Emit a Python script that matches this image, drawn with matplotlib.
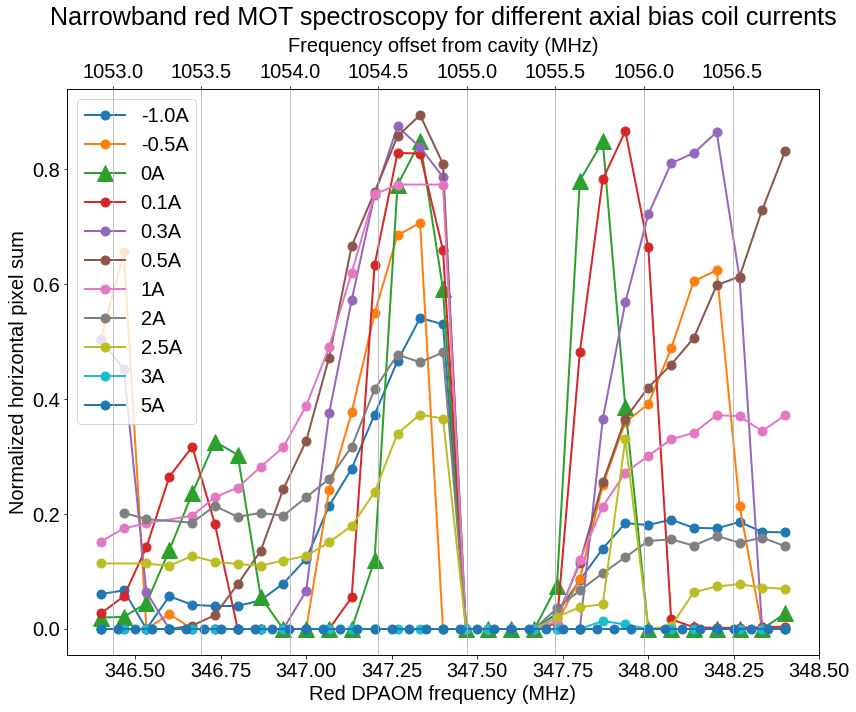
# Narrowband red MOT spectroscopy vs axial bias coil current

import matplotlib
matplotlib.use('Agg')
import matplotlib.pyplot as plt

plt.rcParams['font.family'] = ['Liberation Sans', 'DejaVu Sans']
plt.rcParams['font.size'] = 20

# ---- data ----
# red DPAOM frequency (MHz), regular scan
freq = [346.400, 346.467, 346.533, 346.600, 346.667, 346.733, 346.800, 346.867,
        346.933, 347.000, 347.067, 347.133, 347.200, 347.267, 347.333, 347.400,
        347.467, 347.533, 347.600, 347.667, 347.733, 347.800, 347.867, 347.933,
        348.000, 348.067, 348.133, 348.200, 348.267, 348.333, 348.400]
# finer scan used for the 5A run
freq_fine = [346.40, 346.45, 346.50, 346.55, 346.60, 346.65, 346.70, 346.75,
             346.80, 346.85, 346.90, 346.95, 347.00, 347.05, 347.10, 347.15,
             347.20, 347.25, 347.30, 347.35, 347.40, 347.45, 347.50, 347.55,
             347.60, 347.65, 347.70, 347.75, 347.80, 347.85, 347.90, 347.95,
             348.00, 348.05, 348.10, 348.15, 348.20, 348.25, 348.30, 348.35,
             348.40]

# normalized horizontal pixel sum, None = dropped shot
sig_m1p0 = [0.061, 0.067, 0.0, 0.057, 0.042, 0.040, 0.040, 0.050, 0.079, 0.122,
            0.214, 0.279, 0.373, 0.466, 0.541, 0.530, 0.0, 0.0, 0.0, 0.0,
            0.027, 0.085, 0.140, 0.184, 0.181, 0.190, 0.176, 0.175, 0.186, 0.169,
            0.168]
sig_m0p5 = [0.505, 0.655, 0.0, 0.026, 0.0, 0.0, 0.0, 0.0, 0.0, 0.0,
            0.241, 0.377, 0.549, 0.685, 0.706, 0.0, 0.0, 0.0, 0.0, 0.0,
            0.010, 0.087, 0.250, 0.360, 0.391, 0.488, 0.605, 0.624, 0.214, 0.0,
            0.0]
sig_0 = [0.020, 0.021, 0.045, 0.137, 0.236, 0.326, 0.303, 0.056, 0.0, 0.0,
         0.0, 0.0, 0.120, 0.772, 0.848, 0.591, 0.0, 0.0, 0.0, 0.0,
         0.075, 0.780, 0.848, 0.386, 0.0, 0.0, 0.0, 0.0, 0.0, 0.0,
         0.027]
sig_0p1 = [0.027, 0.057, 0.142, 0.265, 0.317, 0.183, 0.0, 0.0, 0.0, 0.0,
           0.0, 0.055, 0.633, 0.828, 0.827, 0.659, 0.0, 0.0, 0.0, 0.0,
           0.010, 0.481, 0.782, 0.866, 0.664, 0.017, 0.003, 0.002, 0.002, 0.003,
           0.004]
sig_0p3 = [0.503, 0.452, 0.064, 0.0, 0.0, 0.0, 0.0, 0.0, 0.0, 0.066,
           0.375, 0.572, 0.755, 0.874, 0.838, 0.786, 0.0, 0.0, 0.0, 0.0,
           0.0, 0.0, 0.365, 0.568, 0.721, 0.810, 0.828, 0.864, 0.610, 0.0,
           0.0]
sig_0p5 = [0.0, 0.0, 0.0, 0.0, 0.006, 0.024, 0.078, 0.136, 0.243, 0.327,
           0.472, 0.666, 0.760, 0.857, 0.894, 0.809, 0.0, 0.0, 0.0, 0.0,
           0.020, 0.115, 0.255, 0.366, 0.420, 0.460, 0.506, 0.598, 0.613, 0.729,
           0.831]
sig_1 = [0.152, 0.175, 0.184, None, 0.197, 0.229, 0.246, 0.282, 0.316, 0.388,
         0.490, 0.620, 0.756, 0.773, None, 0.773, 0.0, 0.0, 0.0, 0.0,
         0.013, 0.120, 0.213, 0.272, 0.301, 0.330, 0.341, 0.372, 0.370, 0.344,
         0.372]
sig_2 = [None, 0.202, 0.191, None, 0.185, 0.214, 0.195, 0.202, 0.197, 0.229,
         0.261, 0.317, 0.417, 0.477, 0.464, 0.481, 0.0, 0.0, 0.0, 0.0,
         0.036, 0.067, 0.097, 0.125, 0.153, 0.156, 0.145, 0.162, 0.150, 0.159,
         0.144]
sig_2p5 = [0.114, None, 0.114, 0.110, 0.127, 0.117, 0.113, 0.110, 0.119, 0.127,
           0.151, 0.179, 0.238, 0.340, 0.373, 0.366, 0.0, 0.0, 0.0, 0.0,
           0.021, 0.038, 0.043, 0.330, 0.0, 0.005, 0.064, 0.074, 0.078, 0.072,
           0.070]
sig_3 = [0.0, 0.0, 0.0, 0.0, 0.0, 0.0, 0.0, 0.0, 0.0, 0.0,
         0.0, 0.0, 0.0, 0.0, 0.0, 0.0, 0.0, 0.0, 0.0, 0.0,
         0.0, 0.0, 0.014, 0.008, 0.0, 0.0, 0.0, 0.0, 0.0, 0.0,
         0.0]
sig_5 = [0.0, 0.0, 0.0, 0.0, 0.0, 0.0, 0.0, 0.0, 0.0, 0.0,
         0.0, 0.0, 0.0, 0.0, 0.0, 0.0, 0.0, 0.0, 0.0, 0.0,
         0.0, 0.0, 0.0, 0.0, 0.0, 0.0, 0.0, 0.0, 0.0, 0.0,
         0.0, 0.0, 0.0, 0.0, 0.0, 0.0, 0.0, 0.0, 0.0, 0.0,
         0.0]

labels = ['-1.0A', '-0.5A', '0A', '0.1A', '0.3A', '0.5A',
          '1A', '2A', '2.5A', '3A', '5A']
runs = [(freq, sig_m1p0), (freq, sig_m0p5), (freq, sig_0), (freq, sig_0p1),
        (freq, sig_0p3), (freq, sig_0p5), (freq, sig_1), (freq, sig_2),
        (freq, sig_2p5), (freq, sig_3), (freq_fine, sig_5)]

# top axis: frequency offset from cavity (MHz), matched to the bottom range
top_lim = (1052.74, 1056.99)

title = 'Narrowband red MOT spectroscopy for different axial bias coil currents'


def drop_missing(xs, ys):
    pairs = [(x, y) for x, y in zip(xs, ys) if y is not None]
    return [p[0] for p in pairs], [p[1] for p in pairs]


# ---- plot ----
fig = plt.figure(figsize=(856 / 72, 712 / 72), dpi=72)
ax = fig.add_axes([66.7 / 856, 1 - 654.7 / 712,
                   (819.3 - 66.7) / 856, (654.7 - 89.3) / 712])

for (xs, ys), lab in zip(runs, labels):
    xs, ys = drop_missing(xs, ys)
    if lab == '0A':
        ax.plot(xs, ys, '-^', lw=2, ms=16, label=lab)
    else:
        ax.plot(xs, ys, '-o', lw=2, ms=9, label=lab)

ax.set_xlabel('Red DPAOM frequency (MHz)')
ax.set_ylabel('Normalized horizontal pixel sum')
ax.legend(loc='upper left')

ax2 = ax.twiny()
ax2.set_xlim(*top_lim)
ax2.set_xlabel('Frequency offset from cavity (MHz)', labelpad=11)
ax2.grid(True)

# title centred over the axes, about 786 px wide and 18 px below the top edge
t = fig.text(0.5, 1 - 18 / 712, title, ha='center', va='center', fontsize=25)
fig.canvas.draw()
w = t.get_window_extent().width
t.set_fontsize(25 * 786 / w)
t.set_x(((66.7 + 819.3) / 2) / 856)

fig.savefig('out.png', dpi=72)
